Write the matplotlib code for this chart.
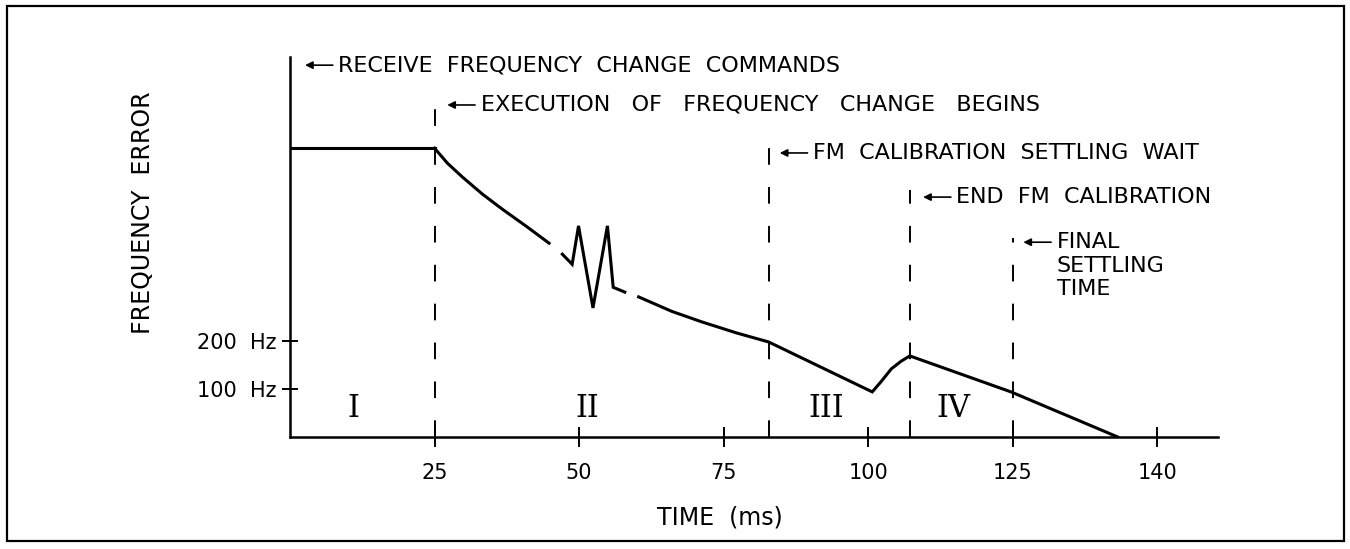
import numpy as np
import matplotlib
matplotlib.use('Agg')
import matplotlib.pyplot as plt
from matplotlib.patches import Rectangle

# frequency error trace (ms, Hz) -- drawn in pieces, the original has gaps
seg1_t = [0, 25]
seg1_f = [602, 602]
seg2_t = [25, 27.2, 29.8, 33.3, 36.7, 41.0, 44.8]
seg2_f = [602, 571, 542, 506, 475, 438, 404]
seg3_t = [47.1, 48.8, 49.9, 52.4, 54.9, 55.9, 57.9]
seg3_f = [381, 360, 440, 269, 440, 312, 302]
seg4_t = [60.3, 66.0, 71.2, 77.2, 82.8, 100.7, 102.2, 104.0, 105.7, 107.2, 124.7, 135.9]
seg4_f = [292, 262, 240, 217, 198, 94, 115, 142, 158, 169, 94, 0]

# event markers
event_t = [25, 82.8, 107.2, 125]
event_top = [712, 608, 514, 414]
event_text = ['EXECUTION   OF   FREQUENCY   CHANGE   BEGINS',
              'FM  CALIBRATION  SETTLING  WAIT',
              'END  FM  CALIBRATION',
              'FINAL']
event_tip = [27.2, 84.7, 109.5, 126.1]
event_y = [692, 592, 500, 406]
final_more = 'SETTLING\nTIME'

phase_labels = ['I', 'II', 'III', 'IV']
phase_t = [11.0, 51.4, 92.8, 114.8]
phase_f = 60

xticks = [25, 50, 75, 100, 125, 140]
yticks = [100, 200]
ytick_labels = ['100  Hz', '200  Hz']

plt.rcParams['lines.scale_dashes'] = False

def fwd(x):
    x = np.asarray(x, dtype=float)
    return np.where(x <= 125, x, 125 + (x - 125) * 25.0 / 15.0)

def inv(x):
    x = np.asarray(x, dtype=float)
    return np.where(x <= 125, x, 125 + (x - 125) * 15.0 / 25.0)

fig = plt.figure(figsize=(13.5, 5.49), dpi=100)
ax = fig.add_axes([290/1350, 112/549, 928/1350, 380/549])
ax.set_xscale('function', functions=(fwd, inv))

for t, f in [(seg1_t, seg1_f), (seg2_t, seg2_f), (seg3_t, seg3_f), (seg4_t, seg4_f)]:
    ax.plot(t, f, color='black', lw=2.2, solid_joinstyle='miter')

for t, top in zip(event_t, event_top):
    ax.plot([t, t], [0, top], color='black', lw=1.4, dashes=(12, 16), clip_on=False)

arrow = dict(arrowstyle='-|>', color='black', lw=1.2, mutation_scale=11, shrinkA=2, shrinkB=0)
ax.annotate('RECEIVE  FREQUENCY  CHANGE  COMMANDS', xy=(2.6, 775), xytext=(24, 0),
            textcoords='offset points', ha='left', va='center', fontsize=16,
            annotation_clip=False, arrowprops=arrow)
for txt, tip, y in zip(event_text, event_tip, event_y):
    ax.annotate(txt, xy=(tip, y), xytext=(24, 0), textcoords='offset points',
                ha='left', va='center', fontsize=16, annotation_clip=False,
                arrowprops=arrow)
ax.annotate(final_more, xy=(event_tip[-1], event_y[-1]), xytext=(24, -10),
            textcoords='offset points', ha='left', va='top', fontsize=16,
            linespacing=1.2, annotation_clip=False)

for lab, t in zip(phase_labels, phase_t):
    ax.text(t, phase_f, lab, ha='center', va='center', fontsize=22,
            family='DejaVu Serif')

ax.set_xlim(0, 146.3)
ax.set_ylim(0, 792)
ax.spines['top'].set_visible(False)
ax.spines['right'].set_visible(False)
ax.spines['left'].set_linewidth(1.8)
ax.spines['bottom'].set_linewidth(1.8)
ax.set_xticks(xticks, labels=[str(x) for x in xticks])
ax.set_yticks(yticks, labels=ytick_labels)
ax.tick_params(axis='x', direction='inout', length=14, width=1.4, labelsize=15, pad=12)
ax.tick_params(axis='y', direction='inout', length=12, width=1.4, labelsize=15, pad=4)
ax.minorticks_off()

ax.set_xlabel('TIME  (ms)', fontsize=17)
ax.xaxis.set_label_coords(0.463, -0.179)
ax.set_ylabel('FREQUENCY  ERROR', fontsize=17)
ax.yaxis.set_label_coords(-0.145, 0.589)

fig.add_artist(Rectangle((7/1350, 8/549), 1337/1350, 535/549, transform=fig.transFigure,
                         fill=False, lw=1.6, color='black'))

fig.savefig('out.png', dpi=100)
